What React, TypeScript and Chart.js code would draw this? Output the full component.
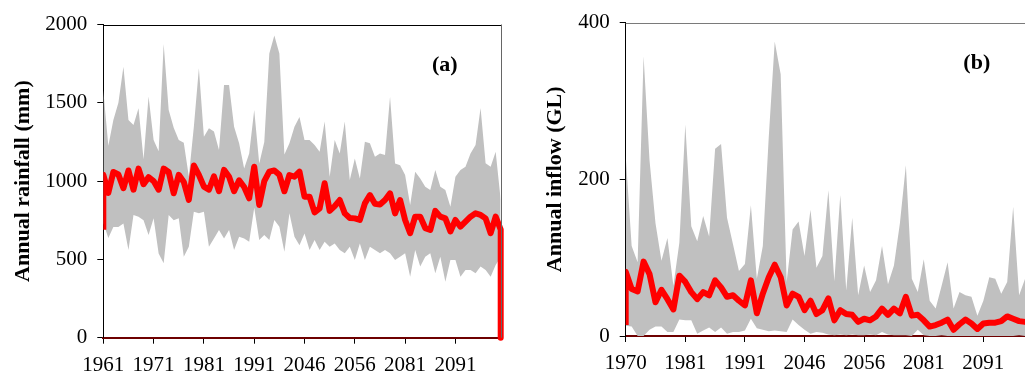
import React, { useEffect, useRef } from 'react';
import { Chart, registerables } from 'chart.js';

Chart.register(...registerables);

const FONT = '"Liberation Serif", "Times New Roman", serif';

// ---------- Panel (a): annual rainfall ----------
const rainTickLabels = ['1961', '1971', '1981', '1991', '2046', '2056', '2081', '2091'];
const rainMedian = [
  1040, 925, 1058, 1042, 955, 1068, 945, 1080, 980, 1025,
  1000, 945, 1080, 1058, 922, 1040, 995, 880, 1100, 1040,
  965, 945, 1030, 935, 1072, 1028, 935, 1005, 962, 890,
  1092, 848, 1000, 1060, 1068, 1040, 935, 1039, 1028, 1060,
  900, 900, 800, 826, 986, 810, 840, 879, 794, 765,
  762, 752, 858, 911, 855, 850, 879, 922, 794, 879,
  752, 667, 773, 773, 700, 688, 810, 773, 762, 678,
  752, 709, 741, 773, 794, 784, 762, 667, 773, 690,
];
const rainMedianStart = 690;
const rainMedianEnd = 0;
const rainUpper = [
  1580, 1225, 1390, 1500, 1730, 1390, 1358, 1465, 1140, 1540,
  1262, 1190, 1875, 1454, 1340, 1262, 1245, 1030, 1347, 1720,
  1283, 1337, 1316, 1198, 1613, 1613, 1347, 1241, 1081, 1177,
  1454, 1113, 1250, 1815, 1930, 1815, 1170, 1242, 1347, 1410,
  1262, 1262, 1230, 1188, 1380, 1028, 1262, 1177, 1380, 1007,
  1145, 1017, 1251, 1241, 1156, 1177, 1166, 1539, 1113, 1102,
  1039, 847, 1060, 1017, 964, 943, 1071, 964, 943, 836,
  1028, 1071, 1092, 1177, 1230, 1466, 1114, 1092, 1187, 879,
];
const rainLower = [
  732, 636, 707, 707, 730, 560, 784, 773, 750, 656,
  762, 538, 475, 784, 750, 762, 517, 580, 805, 794,
  805, 580, 634, 688, 634, 688, 560, 645, 634, 613,
  830, 624, 656, 624, 751, 709, 549, 794, 645, 590,
  666, 560, 624, 560, 613, 581, 602, 560, 539, 581,
  496, 602, 496, 581, 560, 539, 560, 539, 496, 517,
  539, 390, 560, 454, 517, 539, 411, 517, 357, 496,
  496, 390, 432, 432, 411, 454, 432, 390, 464, 516,
];

// ---------- Panel (b): annual inflow ----------
const inflowTickLabels = ['1970', '1981', '1991', '2046', '2056', '2081', '2091'];
const inflowMedian = [
  82, 60, 57, 95, 79, 43, 59, 47, 34, 77,
  69, 56, 47, 56, 52, 71, 62, 50, 52, 45,
  39, 71, 29, 54, 75, 91, 75, 39, 54, 50,
  33, 45, 28, 33, 48, 20, 33, 28, 27, 18,
  22, 20, 25, 35, 27, 35, 29, 50, 26, 27,
  20, 12, 14, 17, 21, 8, 15, 21, 16, 9,
  16, 17, 17, 19, 25, 22, 19, 18, 16, 15,
];
const inflowMedianStart = 14;
const inflowUpper = [
  230, 115, 94, 357, 224, 144, 96, 125, 64, 119,
  270, 140, 121, 153, 127, 239, 245, 151, 117, 83,
  92, 167, 73, 115, 254, 376, 334, 69, 136, 146,
  102, 161, 87, 102, 186, 70, 180, 58, 151, 52,
  90, 56, 71, 115, 66, 90, 144, 218, 73, 56,
  98, 45, 35, 64, 94, 35, 56, 52, 50, 26,
  45, 75, 73, 54, 69, 165, 52, 73, 60, 50,
];
const inflowLower = [
  13, 12, 0, 0, 8, 12, 12, 5, 5, 21,
  20, 20, 3, 7, 11, 5, 11, 3, 5, 5,
  7, 22, 10, 8, 6, 7, 6, 5, 21, 14,
  8, 3, 5, 4, 2, 1, 2, 1, 2, 1,
  1, 2, 1, 5, 2, 1, 1, 1, 0, 8,
  1, 0, 0, 1, 0, 0, 0, 0, 0, 0,
  0, 0, 0, 0, 0, 0, 1, 0, 0, 0,
];

type PanelSpec = {
  median: number[];
  upper: number[];
  lower: number[];
  startValue: number;
  endValue: number | null;
  tickLabels: string[];
  yMax: number;
  yStep: number;
  yTitle: string;
  titlePad: number;
  yAxisWidth: number;
  xAxisHeight: number;
  padding: { left: number; right: number; top: number; bottom: number };
  panelLabel: string;
  labelAt: { x: number; y: number };
  topColor: string;
  rightColor: string;
};

const pts = (arr: number[]) => arr.map((v, i) => ({ x: i, y: v }));

const framePlugin = {
  id: 'frameAndLabel',
  afterDatasetsDraw(chart: any, _args: any, opts: any) {
    const { ctx, chartArea } = chart;
    const { left, right, top } = chartArea;
    ctx.save();
    ctx.lineWidth = 1;
    ctx.strokeStyle = opts.topColor;
    ctx.beginPath();
    ctx.moveTo(left, Math.round(top) + 0.5);
    ctx.lineTo(right + 1, Math.round(top) + 0.5);
    ctx.stroke();
    ctx.strokeStyle = opts.rightColor;
    ctx.beginPath();
    ctx.moveTo(Math.round(right) + 0.5, top);
    ctx.lineTo(Math.round(right) + 0.5, chartArea.bottom);
    ctx.stroke();
    const xs = chart.scales.x;
    const ys = chart.scales.y;
    ctx.font = `bold 22px ${FONT}`;
    ctx.fillStyle = '#000';
    ctx.textAlign = 'center';
    ctx.textBaseline = 'middle';
    ctx.fillText(opts.label, xs.getPixelForValue(opts.at.x), ys.getPixelForValue(opts.at.y));
    ctx.restore();
  },
};

function buildConfig(p: PanelSpec): any {
  const n = p.median.length;
  const medianPts = [{ x: 0, y: p.startValue }, ...pts(p.median)];
  if (p.endValue !== null) medianPts.push({ x: n - 1, y: p.endValue });
  const tickPos = p.tickLabels.map((_, k) => k * 10);
  return {
    type: 'line',
    data: {
      datasets: [
        {
          label: 'median',
          data: medianPts,
          borderColor: '#ff0000',
          borderWidth: 6,
          borderJoinStyle: 'round',
          pointRadius: 0,
          fill: false,
          tension: 0,
          clip: { left: 0, top: 6, right: 6, bottom: 6 },
        },
        {
          label: 'upper',
          data: pts(p.upper),
          borderWidth: 0,
          borderColor: 'rgba(0,0,0,0)',
          backgroundColor: '#c0c0c0',
          pointRadius: 0,
          fill: '+1',
          tension: 0,
        },
        {
          label: 'lower',
          data: pts(p.lower),
          borderWidth: 0,
          borderColor: 'rgba(0,0,0,0)',
          pointRadius: 0,
          fill: false,
          tension: 0,
        },
      ],
    },
    options: {
      responsive: false,
      animation: false,
      events: [],
      layout: { padding: p.padding },
      plugins: {
        legend: { display: false },
        tooltip: { enabled: false },
        frameAndLabel: {
          topColor: p.topColor,
          rightColor: p.rightColor,
          label: p.panelLabel,
          at: p.labelAt,
        },
      },
      scales: {
        x: {
          type: 'linear',
          min: 0,
          max: n - 1,
          afterBuildTicks: (axis: any) => {
            axis.ticks = tickPos.map((v) => ({ value: v }));
          },
          afterFit: (axis: any) => {
            axis.height = p.xAxisHeight;
          },
          ticks: {
            autoSkip: false,
            maxRotation: 0,
            minRotation: 0,
            padding: 9,
            color: '#000',
            font: { family: FONT, size: 21 },
            callback: (v: number) => p.tickLabels[Math.round(v / 10)] ?? '',
          },
          grid: {
            display: true,
            drawOnChartArea: false,
            drawTicks: true,
            tickLength: 6,
            color: '#000',
          },
          border: { display: true, color: '#6e0000', width: 2 },
        },
        y: {
          type: 'linear',
          min: 0,
          max: p.yMax,
          afterBuildTicks: (axis: any) => {
            const t = [];
            for (let v = 0; v <= p.yMax; v += p.yStep) t.push({ value: v });
            axis.ticks = t;
          },
          afterFit: (axis: any) => {
            axis.width = p.yAxisWidth;
          },
          ticks: {
            padding: 10,
            color: '#000',
            font: { family: FONT, size: 21 },
            callback: (v: number) => String(v),
          },
          grid: {
            display: true,
            drawOnChartArea: false,
            drawTicks: true,
            tickLength: 6,
            color: '#000',
          },
          border: { display: true, color: '#000', width: 1 },
          title: {
            display: true,
            text: p.yTitle,
            color: '#000',
            font: { family: FONT, size: 22, weight: 'bold' },
            padding: { top: p.titlePad, bottom: 0 },
          },
        },
      },
    },
    plugins: [framePlugin],
  };
}

const panelA: PanelSpec = {
  median: rainMedian,
  upper: rainUpper,
  lower: rainLower,
  startValue: rainMedianStart,
  endValue: rainMedianEnd,
  tickLabels: rainTickLabels,
  yMax: 2000,
  yStep: 500,
  yTitle: 'Annual rainfall (mm)',
  titlePad: 10,
  yAxisWidth: 103.3,
  xAxisHeight: 37.3,
  padding: { left: 0, right: 14.3, top: 24.5, bottom: 0 },
  panelLabel: '(a)',
  labelAt: { x: 67.9, y: 1741 },
  topColor: '#000',
  rightColor: '#666',
};

const panelB: PanelSpec = {
  median: inflowMedian,
  upper: inflowUpper,
  lower: inflowLower,
  startValue: inflowMedianStart,
  endValue: null,
  tickLabels: inflowTickLabels,
  yMax: 400,
  yStep: 200,
  yTitle: 'Annual inflow (GL)',
  titlePad: 21.8,
  yAxisWidth: 105.7,
  xAxisHeight: 39,
  padding: { left: 0, right: 13, top: 19, bottom: 0 },
  panelLabel: '(b)',
  labelAt: { x: 58.9, y: 348 },
  topColor: '#7a7a7a',
  rightColor: '#7a7a7a',
};

function Panel({ spec, left, width }: { spec: PanelSpec; left: number; width: number }) {
  const ref = useRef<HTMLCanvasElement | null>(null);
  useEffect(() => {
    if (!ref.current) return;
    const chart = new Chart(ref.current, buildConfig(spec));
    return () => chart.destroy();
  }, [spec]);
  return (
    <canvas
      ref={ref}
      width={width}
      height={375}
      style={{ position: 'absolute', left, top: 0, width, height: 375 }}
    />
  );
}

export default function App() {
  return (
    <div
      style={{
        position: 'fixed',
        left: 0,
        top: 0,
        width: 1025,
        height: 375,
        overflow: 'hidden',
        background: '#fff',
      }}
    >
      <Panel spec={panelA} left={0} width={515} />
      <Panel spec={panelB} left={520} width={530} />
    </div>
  );
}
